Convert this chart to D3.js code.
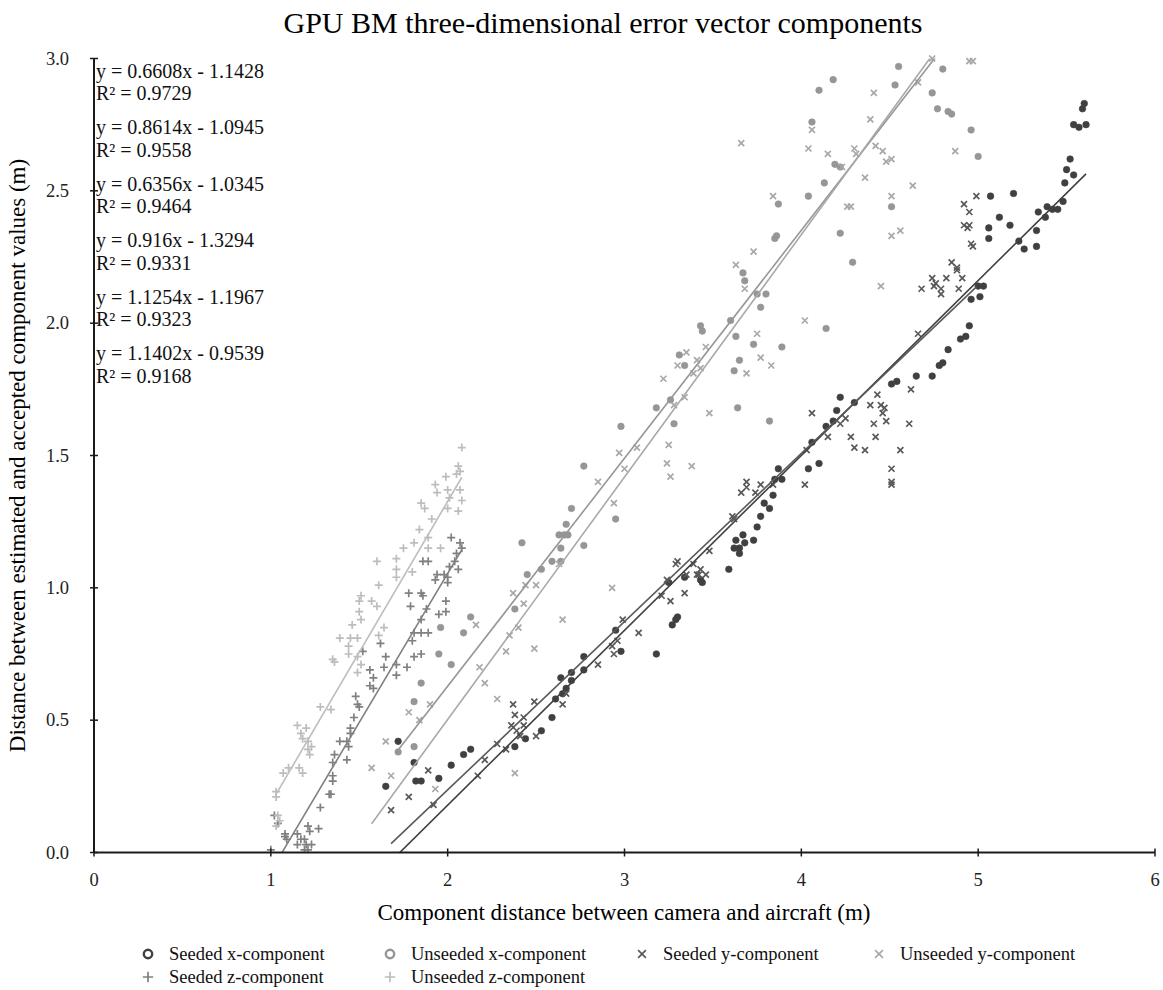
<!DOCTYPE html>
<html><head><meta charset="utf-8">
<script src="https://cdn.jsdelivr.net/npm/d3@7"></script>
<style>
body{margin:0;background:#fff;}
svg{display:block;font-family:"Liberation Serif","Times New Roman",serif;}
</style></head>
<body><svg id="chart" width="1163" height="990"></svg>
<script>
const seriesNames = ["Seeded x-component","Unseeded x-component","Seeded y-component","Unseeded y-component","Seeded z-component","Unseeded z-component"];
const seriesColors = ["#404040","#969696","#595959","#a8a8a8","#808080","#bdbdbd"];
const seriesShapes = ["circle","circle","cross","cross","plus","plus"];
const slopes = [0.6608, 0.8614, 0.6356, 0.916, 1.1254, 1.1402];
const intercepts = [-1.1428, -1.0945, -1.0345, -1.3294, -1.1967, -0.9539];
const r2Values = ["0.9729","0.9558","0.9464","0.9331","0.9323","0.9168"];
const xTicks = [0,1,2,3,4,5,6];
const yTicks = [0,0.5,1,1.5,2,2.5,3];

const seededX = [[1.65,0.25],[1.72,0.42],[1.81,0.34],[1.82,0.27],[1.85,0.27],[1.95,0.28],[2.02,0.33],[2.09,0.37],[2.13,0.39],[2.38,0.40],[2.44,0.43],[2.53,0.46],[2.59,0.51],[2.61,0.58],[2.65,0.60],[2.67,0.62],[2.64,0.66],[2.70,0.65],[2.70,0.68],[2.77,0.69],[2.77,0.74],[2.95,0.84],[2.98,0.76],[3.18,0.75],[3.27,0.86],[3.29,0.88],[3.30,0.89],[3.25,1.02],[3.34,1.04],[3.44,1.02],[3.43,1.03],[3.59,1.07],[3.63,1.18],[3.67,1.20],[3.62,1.15],[3.65,1.15],[3.68,1.17],[3.65,1.13],[3.73,1.18],[3.75,1.23],[3.77,1.27],[3.79,1.32],[3.82,1.30],[3.84,1.35],[3.85,1.41],[3.89,1.41],[3.87,1.45],[4.04,1.45],[4.10,1.47],[4.06,1.55],[4.14,1.61],[4.18,1.63],[4.20,1.67],[4.22,1.72],[4.30,1.70],[4.51,1.77],[4.54,1.78],[4.65,1.80],[4.74,1.80],[4.78,1.84],[4.80,1.85],[4.83,1.90],[4.90,1.94],[4.93,1.95],[4.95,1.99],[4.96,2.09],[5.01,2.10],[5.00,2.14],[5.03,2.14],[5.06,2.32],[5.06,2.36],[5.07,2.48],[5.12,2.40],[5.18,2.37],[5.20,2.49],[5.23,2.31],[5.26,2.28],[5.33,2.29],[5.33,2.35],[5.34,2.42],[5.38,2.40],[5.39,2.44],[5.42,2.43],[5.45,2.43],[5.48,2.46],[5.49,2.53],[5.50,2.58],[5.54,2.56],[5.52,2.62],[5.54,2.75],[5.57,2.74],[5.61,2.75],[5.59,2.81],[5.60,2.83]];

const unseededX = [[1.72,0.38],[1.81,0.40],[1.81,0.57],[1.85,0.64],[1.95,0.75],[1.96,0.85],[2.02,0.71],[2.09,0.83],[2.13,0.89],[2.38,0.92],[2.42,1.17],[2.45,1.05],[2.53,1.07],[2.59,1.10],[2.64,1.10],[2.64,1.15],[2.63,1.20],[2.66,1.20],[2.68,1.20],[2.67,1.24],[2.70,1.30],[2.77,1.16],[2.77,1.46],[2.95,1.26],[2.98,1.61],[3.18,1.68],[3.26,1.71],[3.28,1.62],[3.31,1.88],[3.34,1.84],[3.43,1.99],[3.44,1.97],[3.60,2.01],[3.62,1.82],[3.63,1.95],[3.64,1.68],[3.65,1.86],[3.67,2.19],[3.68,2.16],[3.73,1.92],[3.75,2.11],[3.77,2.06],[3.80,2.11],[3.82,1.63],[3.85,2.32],[3.86,2.33],[3.87,2.45],[3.89,1.91],[4.04,2.48],[4.06,2.76],[4.10,2.88],[4.13,2.53],[4.14,1.98],[4.18,2.92],[4.19,2.60],[4.22,2.59],[4.22,2.34],[4.29,2.23],[4.51,2.44],[4.53,2.90],[4.55,2.97],[4.74,2.87],[4.77,2.81],[4.80,2.96],[4.83,2.80],[4.85,2.79],[4.96,2.73],[5.00,2.63]];

const seededY = [[1.68,0.16],[1.78,0.21],[1.89,0.31],[1.92,0.18],[2.17,0.29],[2.21,0.35],[2.28,0.41],[2.33,0.39],[2.37,0.56],[2.38,0.52],[2.36,0.48],[2.43,0.48],[2.39,0.46],[2.41,0.44],[2.43,0.51],[2.49,0.57],[2.50,0.44],[2.65,0.56],[2.67,0.60],[2.85,0.71],[2.94,0.75],[2.93,0.78],[2.96,0.80],[2.99,0.88],[3.08,0.83],[3.21,0.97],[3.26,0.95],[3.24,1.03],[3.34,0.98],[3.41,1.05],[3.29,1.09],[3.30,1.10],[3.35,1.05],[3.39,1.09],[3.43,1.07],[3.42,1.05],[3.46,1.05],[3.48,1.14],[3.61,1.27],[3.62,1.26],[3.66,1.36],[3.69,1.40],[3.69,1.38],[3.74,1.36],[3.77,1.39],[3.84,1.39],[4.02,1.39],[4.03,1.52],[4.06,1.66],[4.15,1.57],[4.22,1.62],[4.25,1.64],[4.28,1.57],[4.30,1.53],[4.36,1.52],[4.39,1.69],[4.42,1.57],[4.43,1.73],[4.41,1.62],[4.45,1.69],[4.46,1.66],[4.47,1.68],[4.48,1.63],[4.56,1.52],[4.51,1.45],[4.51,1.40],[4.51,1.39],[4.61,1.62],[4.62,1.75],[4.66,1.96],[4.68,2.13],[4.74,2.17],[4.75,2.14],[4.76,2.15],[4.79,2.13],[4.79,2.11],[4.82,2.17],[4.85,2.23],[4.88,2.21],[4.88,2.20],[4.91,2.17],[4.89,2.13],[4.92,2.45],[4.95,2.42],[4.92,2.37],[4.94,2.36],[4.95,2.37],[4.96,2.30],[4.97,2.29],[4.99,2.48]];

const unseededY = [[1.57,0.32],[1.65,0.42],[1.68,0.29],[1.78,0.53],[1.84,0.50],[1.90,0.56],[1.93,0.24],[2.16,0.86],[2.18,0.70],[2.21,0.64],[2.28,0.58],[2.33,0.76],[2.35,0.82],[2.38,0.30],[2.40,0.85],[2.37,0.98],[2.43,0.94],[2.44,1.01],[2.50,1.01],[2.49,0.77],[2.65,0.88],[2.63,1.09],[2.85,1.40],[2.93,1.00],[2.94,1.32],[2.97,1.51],[3.00,1.45],[3.07,1.53],[3.22,1.79],[3.25,1.54],[3.24,1.47],[3.26,1.42],[3.28,1.69],[3.30,1.84],[3.34,1.72],[3.35,1.89],[3.38,1.46],[3.39,1.81],[3.41,1.86],[3.43,1.83],[3.46,1.91],[3.48,1.66],[3.63,2.22],[3.66,2.68],[3.68,2.13],[3.69,1.81],[3.73,2.27],[3.75,1.96],[3.77,1.87],[3.83,1.84],[3.84,2.48],[4.02,2.01],[4.04,2.66],[4.06,2.73],[4.15,2.64],[4.23,2.59],[4.26,2.44],[4.28,2.44],[4.30,2.66],[4.31,2.64],[4.36,2.55],[4.39,2.77],[4.41,2.87],[4.42,2.67],[4.45,2.14],[4.46,2.65],[4.48,2.61],[4.51,2.62],[4.51,2.48],[4.51,2.33],[4.56,2.35],[4.63,2.52],[4.66,2.91],[4.74,3.00],[4.87,2.65],[4.95,2.99],[4.97,2.99]];

const seededZ = [[1.00,0.01],[1.02,0.14],[1.04,0.11],[1.08,0.06],[1.09,0.05],[1.08,0.07],[1.15,0.07],[1.17,0.05],[1.19,0.05],[1.21,0.10],[1.22,0.08],[1.20,0.03],[1.23,0.03],[1.19,0.01],[1.21,0.01],[1.15,0.03],[1.27,0.09],[1.28,0.17],[1.33,0.22],[1.34,0.22],[1.35,0.29],[1.35,0.27],[1.36,0.37],[1.35,0.34],[1.43,0.35],[1.39,0.42],[1.43,0.42],[1.44,0.40],[1.45,0.47],[1.45,0.45],[1.47,0.51],[1.48,0.59],[1.49,0.56],[1.50,0.55],[1.52,0.76],[1.56,0.69],[1.58,0.66],[1.56,0.63],[1.58,0.62],[1.62,0.79],[1.65,0.74],[1.64,0.70],[1.71,0.71],[1.71,0.67],[1.77,0.70],[1.80,0.80],[1.81,0.83],[1.85,0.83],[1.89,0.83],[1.85,0.75],[1.81,0.74],[1.85,0.88],[1.88,0.92],[1.95,0.90],[1.99,0.95],[1.99,0.91],[1.78,0.98],[1.79,0.93],[1.85,0.98],[1.86,0.97],[1.86,1.10],[1.89,1.10],[1.93,1.03],[1.94,1.05],[1.98,1.05],[2.00,1.04],[2.00,1.02],[2.01,1.08],[2.06,1.07],[2.04,1.10],[2.05,1.13],[2.02,1.19],[2.07,1.17],[2.08,1.15]];

const unseededZ = [[1.03,0.10],[1.05,0.12],[1.04,0.14],[1.03,0.21],[1.03,0.23],[1.07,0.30],[1.10,0.32],[1.16,0.32],[1.18,0.30],[1.21,0.39],[1.22,0.37],[1.23,0.40],[1.21,0.42],[1.18,0.43],[1.15,0.48],[1.17,0.45],[1.20,0.47],[1.28,0.55],[1.34,0.54],[1.35,0.73],[1.36,0.72],[1.44,0.78],[1.44,0.75],[1.49,0.74],[1.51,0.71],[1.49,0.68],[1.39,0.81],[1.45,0.81],[1.49,0.81],[1.46,0.86],[1.51,0.88],[1.51,0.97],[1.50,0.95],[1.50,0.91],[1.57,0.95],[1.60,0.93],[1.61,1.01],[1.60,1.10],[1.61,0.82],[1.64,0.85],[1.71,1.11],[1.71,1.07],[1.71,1.04],[1.75,1.15],[1.80,1.06],[1.81,1.17],[1.84,1.22],[1.85,1.32],[1.87,1.30],[1.89,1.15],[1.89,1.19],[1.91,1.26],[1.93,1.39],[1.94,1.36],[1.96,1.15],[1.99,1.42],[2.00,1.37],[2.01,1.34],[2.00,1.30],[2.06,1.29],[2.05,1.43],[2.06,1.46],[2.07,1.44],[2.07,1.37],[2.08,1.33],[2.08,1.53]];

const allSeries = [seededX, unseededX, seededY, unseededY, seededZ, unseededZ];

const svg = d3.select("#chart");
const W = 1163, H = 990;
const x = d3.scaleLinear().domain([0,6]).range([94,1155]);
const y = d3.scaleLinear().domain([0,3]).range([852.5,58.5]);

svg.append("rect").attr("width",W).attr("height",H).attr("fill","#fff");

svg.append("defs").append("clipPath").attr("id","plotclip")
  .append("rect").attr("x",x(0)).attr("y",y(3)-4).attr("width",x(6)-x(0)).attr("height",y(0)-y(3)+4);

// Title
svg.append("text").attr("x",603).attr("y",22).attr("text-anchor","middle").attr("dominant-baseline","central")
  .attr("font-size",30).attr("fill","#000").text("GPU BM three-dimensional error vector components");

function drawMarker(g, shape, color, cx, cy, scale){
  const s = scale||1;
  if(shape==="circle"){
    g.append("circle").attr("cx",cx).attr("cy",cy).attr("r",3.3*s).attr("fill",color).attr("stroke",color).attr("stroke-width",0.6);
  } else if(shape==="cross"){
    const r=3*s;
    g.append("path").attr("d",`M${cx-r},${cy-r}L${cx+r},${cy+r}M${cx-r},${cy+r}L${cx+r},${cy-r}`)
      .attr("stroke",color).attr("stroke-width",1.7).attr("fill","none");
  } else {
    const r=4*s;
    g.append("path").attr("d",`M${cx-r},${cy}L${cx+r},${cy}M${cx},${cy-r}L${cx},${cy+r}`)
      .attr("stroke",color).attr("stroke-width",1.7).attr("fill","none");
  }
}

const plot = svg.append("g").attr("clip-path","url(#plotclip)");
allSeries.forEach((data,i)=>{
  const g = plot.append("g");
  data.forEach(d=>drawMarker(g, seriesShapes[i], seriesColors[i], x(d[0]), y(d[1])));
});
svg.append("defs").append("clipPath").attr("id","lineclip")
  .append("rect").attr("x",x(0)).attr("y",y(3)).attr("width",x(6)-x(0)).attr("height",y(0)-y(3));
const lines = svg.append("g").attr("clip-path","url(#lineclip)");
allSeries.forEach((data,i)=>{
  const [x0,x1] = d3.extent(data, d=>d[0]);
  const f = v => slopes[i]*v + intercepts[i];
  lines.append("line").attr("x1",x(x0)).attr("y1",y(f(x0))).attr("x2",x(x1)).attr("y2",y(f(x1)))
    .attr("stroke",seriesColors[i]).attr("stroke-width",1.6);
});

const axisColor = "#1a1a1a";
svg.append("line").attr("x1",x(0)).attr("x2",x(6)).attr("y1",y(0)).attr("y2",y(0)).attr("stroke",axisColor).attr("stroke-width",2);
svg.append("line").attr("x1",x(0)).attr("x2",x(0)).attr("y1",y(0)).attr("y2",y(3)).attr("stroke",axisColor).attr("stroke-width",2);
xTicks.forEach(t=>{
  svg.append("line").attr("x1",x(t)).attr("x2",x(t)).attr("y1",y(0)-4).attr("y2",y(0)+4).attr("stroke",axisColor).attr("stroke-width",1.5);
  svg.append("text").attr("x",x(t)).attr("y",880).attr("text-anchor","middle").attr("dominant-baseline","central")
    .attr("font-size",18.5).attr("fill","#222").text(d3.format("d")(t));
});
yTicks.forEach(t=>{
  svg.append("line").attr("x1",x(0)-4).attr("x2",x(0)+4).attr("y1",y(t)).attr("y2",y(t)).attr("stroke",axisColor).attr("stroke-width",1.5);
  svg.append("text").attr("x",69).attr("y",y(t)).attr("text-anchor","end").attr("dominant-baseline","central")
    .attr("font-size",18.5).attr("fill","#222").text(d3.format(".1f")(t));
});

svg.append("text").attr("x",624).attr("y",912).attr("text-anchor","middle").attr("dominant-baseline","central")
  .attr("font-size",23).attr("fill","#000").text("Component distance between camera and aircraft (m)");
svg.append("text").attr("transform",`translate(17,${(y(0)+y(3))/2}) rotate(-90)`).attr("text-anchor","middle").attr("dominant-baseline","central")
  .attr("font-size",23).attr("fill","#000").text("Distance between estimated and accepted component values (m)");

const eqG = svg.append("g");
slopes.forEach((s,i)=>{
  const b = intercepts[i];
  const yy = 70.7 + 56.5*i;
  eqG.append("text").attr("x",96).attr("y",yy).attr("dominant-baseline","central").attr("font-size",20).attr("fill","#111")
    .text(`y = ${s}x ${b<0?"-":"+"} ${Math.abs(b)}`);
  eqG.append("text").attr("x",96).attr("y",yy+22.6).attr("dominant-baseline","central").attr("font-size",20).attr("fill","#111")
    .text(`R² = ${r2Values[i]}`);
});

const legCols = [148, 390, 642, 879];
const legRows = [954, 977];
const legG = svg.append("g");
seriesNames.forEach((name,i)=>{
  const col = i<4 ? i : i-4;
  const row = i<4 ? 0 : 1;
  const cx = legCols[col], cy = legRows[row];
  if(seriesShapes[i]==="circle"){
    legG.append("circle").attr("cx",cx).attr("cy",cy).attr("r",4.2).attr("fill","none").attr("stroke",seriesColors[i]).attr("stroke-width",2.4);
  } else {
    drawMarker(legG, seriesShapes[i], seriesColors[i], cx, cy, 1.3);
  }
  legG.append("text").attr("x",cx+21).attr("y",cy).attr("dominant-baseline","central").attr("font-size",18.5).attr("fill","#111").text(name);
});
</script>
</body></html>
